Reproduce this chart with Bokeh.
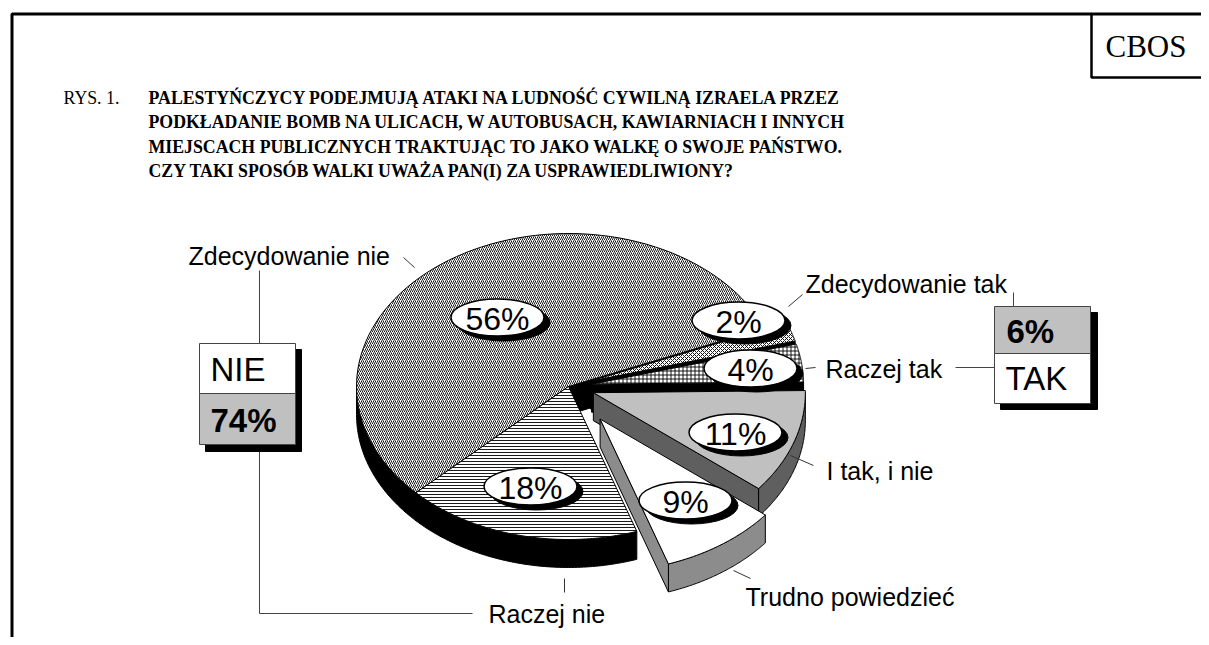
import numpy as np
from bokeh.plotting import figure
from bokeh.models import Range1d
from bokeh.core.properties import value
from bokeh.embed import file_html
from bokeh.resources import INLINE

# ---------------- data ----------------
categories = ["Zdecydowanie nie", "Zdecydowanie tak", "Raczej tak",
              "I tak, i nie", "Trudno powiedzieć", "Raczej nie"]
values = [56, 2, 4, 11, 9, 18]
pct_labels = [f"{v}%" for v in values]
group_names = ["NIE", "TAK"]
group_values = [56 + 18, 2 + 4]
group_labels = [f"{v}%" for v in group_values]
fig_number = "RYS. 1."
title_lines = [
    "PALESTYŃCZYCY PODEJMUJĄ ATAKI NA LUDNOŚĆ CYWILNĄ IZRAELA PRZEZ",
    "PODKŁADANIE BOMB NA ULICACH, W AUTOBUSACH, KAWIARNIACH I INNYCH",
    "MIEJSCACH PUBLICZNYCH TRAKTUJĄC TO JAKO WALKĘ O SWOJE PAŃSTWO.",
    "CZY TAKI SPOSÓB WALKI UWAŻA PAN(I) ZA USPRAWIEDLIWIONY?",
]
source_tag = "CBOS"

# ---------------- layout / style ----------------
W, H = 1201, 637
OFF = 0
CX, CY = 568, 386          # pie centre (page px)
A, B = 212, 153            # ellipse semi-axes
DEPTH = 28
START = 224.0              # start angle (deg), slices go clockwise
explode = [0.0, 0.11, 0.11, 0.124, 0.26, 0.0]
top_fill = ["white", "white", "white", "#c0c0c0", "white", "white"]
hatches = ["/", "x", "+", None, None, "-"]
hatch_scale = [4, 4, 4, 4, 4, 3]
wall_fill = ["black", "black", "black", "#5f5f5f", "#8c8c8c", "black"]
draw_order = [0, 1, 2, 5, 3, 4]

pct_pos = [(497, 317), (738, 320), (750, 368), (735, 432), (685, 500), (530, 486)]
LBL_W, LBL_H = 93, 37
SH_DX, SH_DY = 6, 5

cat_pos = [(188, 255), (805, 283), (825, 368), (826, 470), (745, 596), (488, 613)]
leaders = [((403, 257), (414, 267)), ((788, 306), (802, 294)),
           ((805, 368), (815, 367)), ((790, 455), (813, 465)),
           ((733, 570), (750, 578)), ((564, 578), (564, 592))]

SANS = value("Liberation Sans")
SERIF = value("Liberation Serif")

p = figure(width=W, height=H, x_range=Range1d(OFF, OFF + W), y_range=Range1d(OFF + H, OFF),
           output_backend="svg", toolbar_location=None,
           x_axis_type=None, y_axis_type=None, min_border=0)
p.grid.grid_line_color = None
p.outline_line_color = None
p.background_fill_color = "white"

# ---------------- frame ----------------
p.line([11.5, 11.5, 1300], [700, 13.5, 13.5], line_color="black", line_width=3)
p.line([1091, 1091, 1300], [13.5, 77, 77], line_color="black", line_width=2.5)
p.text([1105], [46], text=[source_tag], text_font=SERIF, text_font_size="31px",
       text_baseline="middle", text_align="left", text_color="black")

# ---------------- title ----------------
p.text([63], [97], text=[fig_number], text_font=SERIF, text_font_size="17.8px",
       text_baseline="middle", text_align="left", text_color="black")
p.text([148] * len(title_lines), [97 + 24.5 * i for i in range(len(title_lines))],
       text=title_lines, text_font=SERIF, text_font_size="17.8px", text_font_style="bold",
       text_baseline="middle", text_align="left", text_color="black")

# ---------------- 3D pie ----------------
def pt(t_deg, ox, oy, dz=0.0):
    t = np.radians(t_deg)
    return CX + ox + A * np.cos(t), CY + oy + dz - B * np.sin(t)

def arc(t1, t2, ox, oy, dz=0.0, n=80):
    ts = np.linspace(t1, t2, n)
    return pt(ts, ox, oy, dz)

def front_parts(lo, hi):
    out = []
    for a0, a1 in [(-180, 0), (180, 360)]:
        l, h = max(lo, a0), min(hi, a1)
        if h > l:
            out.append((l, h))
    return out

angles = []
acc = START
for v in values:
    s = acc
    e = acc - 3.6 * v
    angles.append((s, e))
    acc = e

for i in draw_order:
    s, e = angles[i]
    m = np.radians((s + e) / 2)
    ox, oy = A * explode[i] * np.cos(m), -B * explode[i] * np.sin(m)
    # outer walls
    for l, h in front_parts(e, s):
        tx, ty = arc(h, l, ox, oy)
        bx, by = arc(l, h, ox, oy, DEPTH)
        p.patch(list(tx) + list(bx), list(ty) + list(by), fill_color=wall_fill[i],
                line_color="black", line_width=1)
    # radial faces
    faces = []
    if np.cos(np.radians(e)) > 0:
        faces.append(e)
    if np.cos(np.radians(s)) < 0:
        faces.append(s)
    for t in faces:
        px_, py_ = pt(t, ox, oy)
        ax_, ay_ = CX + ox, CY + oy
        p.patch([ax_, px_, px_, ax_], [ay_, py_, py_ + DEPTH, ay_ + DEPTH],
                fill_color=wall_fill[i], line_color="black", line_width=1)
    # top face
    tx, ty = arc(s, e, ox, oy)
    xs = [CX + ox] + list(tx)
    ys = [CY + oy] + list(ty)
    kw = dict(fill_color=top_fill[i], line_color="black", line_width=1)
    if hatches[i]:
        kw.update(hatch_pattern=hatches[i], hatch_color="black",
                  hatch_scale=hatch_scale[i], hatch_weight=0.9)
    p.patch(xs, ys, **kw)

# ---------------- percent labels ----------------
lx = [q[0] for q in pct_pos]
ly = [q[1] for q in pct_pos]
p.ellipse([x + SH_DX for x in lx], [y + SH_DY for y in ly], width=LBL_W, height=LBL_H,
          fill_color="black", line_color="black")
p.ellipse(lx, ly, width=LBL_W, height=LBL_H, fill_color="white", line_color="black",
          line_width=1.5)
p.text(lx, [y + 1 for y in ly], text=pct_labels, text_font=SANS, text_font_size="32px",
       text_baseline="middle", text_align="center", text_color="black")

# ---------------- category labels & leaders ----------------
p.text([q[0] for q in cat_pos], [q[1] for q in cat_pos], text=categories,
       text_font=SANS, text_font_size="25px", text_baseline="middle",
       text_align="left", text_color="black")
p.segment([l[0][0] for l in leaders], [l[0][1] for l in leaders],
          [l[1][0] for l in leaders], [l[1][1] for l in leaders],
          line_color="#333333", line_width=1)

# ---------------- group boxes ----------------
# NIE box (left)
p.line([259, 259], [270, 343], line_color="#444444", line_width=1)
p.line([259, 259, 472], [451, 613, 613], line_color="#444444", line_width=1)
p.quad(left=[205], right=[301], top=[349], bottom=[451], fill_color="black", line_color="black")
p.quad(left=[199], right=[295], top=[343], bottom=[393], fill_color="white", line_color="#444444")
p.quad(left=[199], right=[295], top=[393], bottom=[444], fill_color="#c0c0c0", line_color="#444444")
p.text([210], [369], text=[group_names[0]], text_font=SANS, text_font_size="33px",
       text_baseline="middle", text_align="left", text_color="black")
p.text([210], [420], text=[group_labels[0]], text_font=SANS, text_font_size="33px",
       text_font_style="bold", text_baseline="middle", text_align="left", text_color="black")

# TAK box (right)
p.line([1013, 1013], [292, 306], line_color="#444444", line_width=1)
p.line([955, 994], [367, 367], line_color="#444444", line_width=1)
p.quad(left=[1000], right=[1097], top=[312], bottom=[409], fill_color="black", line_color="black")
p.quad(left=[994], right=[1090], top=[306], bottom=[353], fill_color="#c0c0c0", line_color="#444444")
p.quad(left=[994], right=[1090], top=[353], bottom=[403], fill_color="white", line_color="#444444")
p.text([1006], [331], text=[group_labels[1]], text_font=SANS, text_font_size="33px",
       text_font_style="bold", text_baseline="middle", text_align="left", text_color="black")
p.text([1005], [378], text=[group_names[1]], text_font=SANS, text_font_size="33px",
       text_baseline="middle", text_align="left", text_color="black")

open("out.html", "w").write(file_html(p, INLINE))
